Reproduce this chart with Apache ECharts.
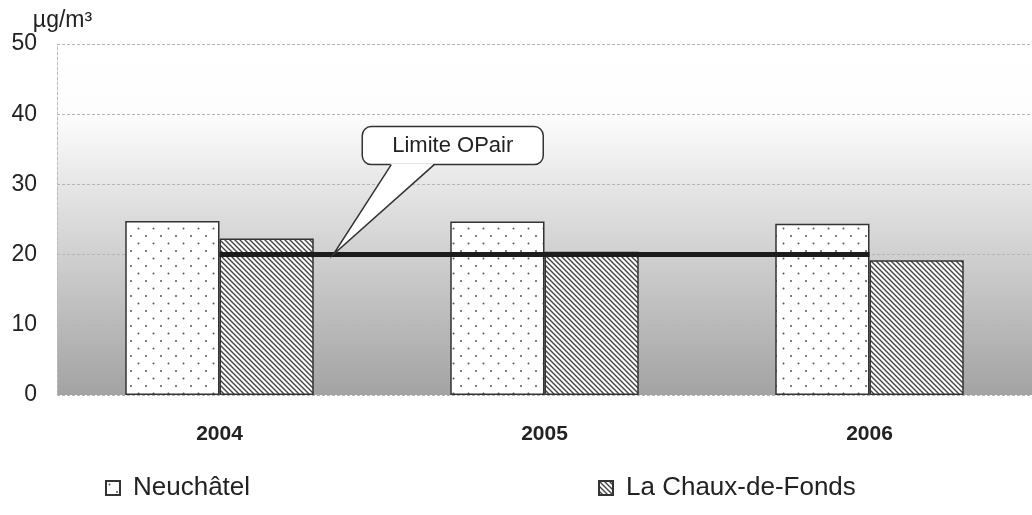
<!DOCTYPE html>
<html>
<head>
<meta charset="utf-8">
<script src="https://cdn.jsdelivr.net/npm/echarts@6/dist/echarts.min.js"></script>
<style>
  html, body { margin: 0; padding: 0; background: #fff; }
  #chart { width: 1032px; height: 515px; }
</style>
</head>
<body>
<div id="chart"></div>
<script>
// data
var years = ['2004', '2005', '2006'];
var neuchatel = [24.8, 24.7, 24.4];
var chauxDeFonds = [22.3, 20.4, 19.2];
var limite = [20, 20, 20];
var yTicks = { min: 0, max: 50, interval: 10 };

// fill patterns
function dotPattern() {
  var c = document.createElement('canvas');
  c.width = 15; c.height = 15;
  var ctx = c.getContext('2d');
  ctx.fillStyle = '#fff';
  ctx.fillRect(0, 0, 15, 15);
  ctx.fillStyle = '#555';
  ctx.beginPath(); ctx.arc(3.5, 3.5, 1, 0, Math.PI * 2); ctx.fill();
  ctx.beginPath(); ctx.arc(11, 11, 1, 0, Math.PI * 2); ctx.fill();
  return { image: c, repeat: 'repeat' };
}
function hatchPattern() {
  var s = 5;
  var c = document.createElement('canvas');
  c.width = s; c.height = s;
  var ctx = c.getContext('2d');
  ctx.fillStyle = '#fff';
  ctx.fillRect(0, 0, s, s);
  ctx.strokeStyle = '#444';
  ctx.lineWidth = 1.4;
  ctx.beginPath();
  ctx.moveTo(-1, -1); ctx.lineTo(s + 1, s + 1);
  ctx.moveTo(-1, s - 1); ctx.lineTo(1, s + 1);
  ctx.moveTo(s - 1, -1); ctx.lineTo(s + 1, 1);
  ctx.stroke();
  return { image: c, repeat: 'repeat' };
}

var myChart = echarts.init(document.getElementById('chart'));
var font = 'Liberation Sans, Arial, sans-serif';

var legendText = { fontSize: 26, color: '#222', fontFamily: font, padding: [0, 0, 0, 8] };

var option = {
  animation: false,
  textStyle: { fontFamily: font },
  grid: {
    left: 57, right: -10, top: 44, bottom: 120,
    show: true,
    borderWidth: 0,
    backgroundColor: {
      type: 'linear', x: 0, y: 0, x2: 0, y2: 1,
      colorStops: [
        { offset: 0, color: '#ffffff' },
        { offset: 0.2, color: '#fdfdfd' },
        { offset: 1, color: '#a3a3a3' }
      ]
    }
  },
  legend: [
    {
      data: ['Neuchâtel'], left: 100, top: 470,
      itemWidth: 14, itemHeight: 14,
      icon: 'rect',
      textStyle: legendText
    },
    {
      data: ['La Chaux-de-Fonds'], left: 593, top: 470,
      itemWidth: 14, itemHeight: 14,
      icon: 'rect',
      textStyle: legendText
    }
  ],
  xAxis: {
    type: 'category',
    data: years,
    axisLine: { show: false },
    axisTick: { show: false },
    axisLabel: { fontSize: 21, fontWeight: 'bold', color: '#222', margin: 29 }
  },
  yAxis: {
    type: 'value',
    min: yTicks.min, max: yTicks.max, interval: yTicks.interval,
    name: 'µg/m³',
    nameGap: 7,
    nameTextStyle: { fontSize: 23, color: '#222', padding: [0, 0, 0, 11] },
    axisLine: { show: true, lineStyle: { color: '#bbb', type: [3, 2], width: 1 } },
    axisTick: { show: false },
    axisLabel: { fontSize: 23, color: '#222', margin: 20 },
    splitLine: { lineStyle: { color: '#b5b5b5', type: [3, 2], width: 1 } }
  },
  series: [
    {
      name: 'Neuchâtel', type: 'bar', data: neuchatel,
      barGap: '0%', barCategoryGap: '42%',
      itemStyle: { color: dotPattern(), borderColor: '#333', borderWidth: 1.5 }
    },
    {
      name: 'La Chaux-de-Fonds', type: 'bar', data: chauxDeFonds,
      itemStyle: { color: hatchPattern(), borderColor: '#333', borderWidth: 1.5 }
    },
    {
      name: 'Limite OPair', type: 'line', data: limite,
      symbol: 'none', z: 5,
      lineStyle: { color: '#1c1c1c', width: 5 }
    }
  ]
};
myChart.setOption(option);

// callout "Limite OPair" anchored on the limit line
var p0 = myChart.convertToPixel({ seriesIndex: 2 }, [0, limite[0]]);
var p1 = myChart.convertToPixel({ seriesIndex: 2 }, [1, limite[1]]);
var ax = p0[0] + (p1[0] - p0[0]) * 0.35;
var ay = p0[1];
var x0 = ax + 29, x1 = ax + 210, y0 = ay - 128, y1 = ay - 90;

myChart.setOption({
  graphic: [
    {
      type: 'rect', z: 10,
      shape: { x: x0, y: y0, width: x1 - x0, height: y1 - y0, r: 9 },
      style: { fill: '#fff', stroke: '#333', lineWidth: 1.5 }
    },
    {
      type: 'polygon', z: 11,
      shape: { points: [[ax + 58, y1 - 1], [ax, ay], [ax + 101, y1 - 1]] },
      style: { fill: '#fff' }
    },
    {
      type: 'polyline', z: 12,
      shape: { points: [[ax + 58, y1], [ax, ay], [ax + 101, y1]] },
      style: { stroke: '#333', lineWidth: 1.5, fill: null }
    },
    {
      type: 'text', z: 13,
      x: (x0 + x1) / 2, y: (y0 + y1) / 2,
      style: {
        text: 'Limite OPair', fill: '#222', font: '22px ' + font,
        align: 'center', verticalAlign: 'middle'
      }
    }
  ]
});
</script>
</body>
</html>
